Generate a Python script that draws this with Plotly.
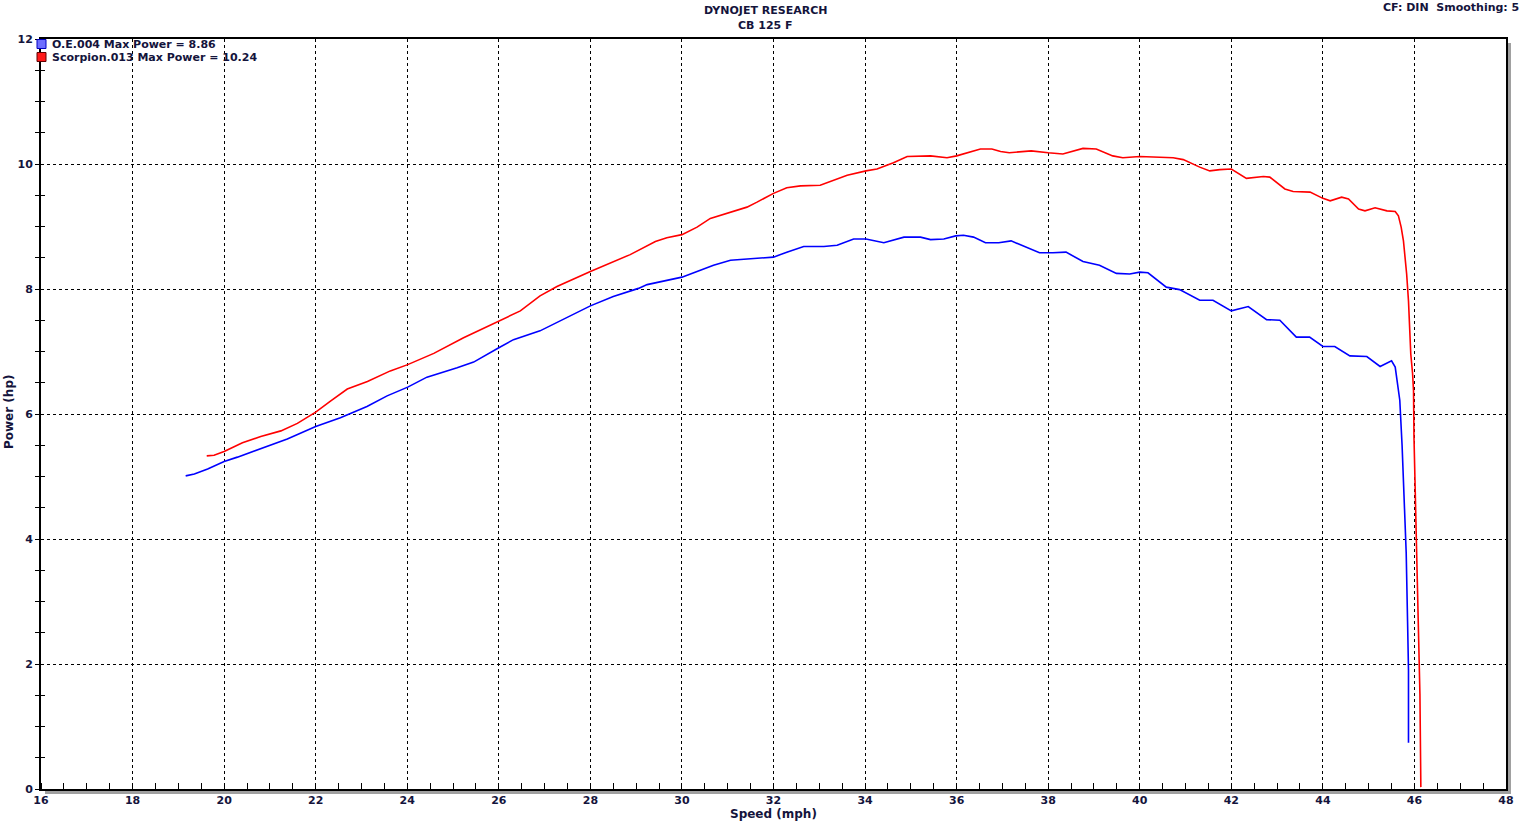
import plotly.graph_objects as go

# ---------------- data ----------------
oe_speed = [19.16, 19.35, 19.64, 20.0, 20.29, 20.87, 21.38, 22.0, 22.54, 23.12, 23.56, 24.01,
            24.43, 25.09, 25.45, 26.0, 26.32, 26.90, 27.41, 28.0, 28.5, 29.05, 29.24, 29.60,
            30.0, 30.33, 30.69, 31.06, 31.42, 32.0, 32.29, 32.66, 33.10, 33.39, 33.75, 34.02,
            34.41, 34.85, 35.21, 35.43, 35.72, 35.98, 36.15, 36.37, 36.63, 36.92, 37.19, 37.45,
            37.81, 38.10, 38.39, 38.76, 39.12, 39.49, 39.78, 40.0, 40.18, 40.58, 40.87, 41.31,
            41.60, 42.0, 42.37, 42.77, 43.06, 43.42, 43.71, 44.0, 44.26, 44.59, 44.96, 45.25,
            45.50, 45.58, 45.66, 45.68, 45.73, 45.77, 45.82, 45.85, 45.87, 45.87]
oe_power = [5.01, 5.04, 5.12, 5.24, 5.31, 5.46, 5.60, 5.80, 5.94, 6.12, 6.29, 6.43,
            6.59, 6.74, 6.83, 7.06, 7.19, 7.33, 7.52, 7.73, 7.88, 8.01, 8.07, 8.13,
            8.19, 8.28, 8.38, 8.46, 8.48, 8.51, 8.59, 8.68, 8.68, 8.70, 8.80, 8.80,
            8.74, 8.83, 8.83, 8.79, 8.80, 8.85, 8.86, 8.83, 8.74, 8.74, 8.77, 8.69,
            8.58, 8.58, 8.59, 8.44, 8.38, 8.25, 8.24, 8.27, 8.26, 8.03, 7.99, 7.82,
            7.82, 7.65, 7.72, 7.51, 7.50, 7.23, 7.23, 7.08, 7.08, 6.93, 6.92, 6.76,
            6.85, 6.75, 6.38, 6.22, 5.50, 4.84, 3.78, 2.68, 1.90, 0.74]

sc_speed = [19.62, 19.78, 20.0, 20.40, 20.80, 21.24, 21.60, 22.0, 22.33, 22.69, 23.13, 23.63,
            24.01, 24.58, 25.23, 25.81, 26.0, 26.47, 26.90, 27.27, 28.0, 28.54, 28.87, 29.42,
            29.67, 30.0, 30.33, 30.62, 31.06, 31.42, 31.64, 32.0, 32.29, 32.59, 33.02, 33.61,
            34.02, 34.26, 34.62, 34.92, 35.43, 35.79, 36.0, 36.23, 36.52, 36.77, 36.96, 37.15,
            37.63, 38.0, 38.32, 38.76, 39.05, 39.41, 39.63, 40.0, 40.73, 40.95, 41.31, 41.53,
            41.75, 42.0, 42.33, 42.70, 42.84, 43.17, 43.35, 43.72, 44.0, 44.16, 44.41, 44.56,
            44.78, 44.92, 45.14, 45.40, 45.58, 45.65, 45.71, 45.76, 45.80, 45.83, 45.87, 45.89,
            45.92, 45.96, 45.98, 45.99, 46.02, 46.06, 46.08, 46.10, 46.12, 46.14]
sc_power = [5.33, 5.34, 5.40, 5.54, 5.64, 5.73, 5.85, 6.03, 6.21, 6.40, 6.52, 6.69,
            6.79, 6.97, 7.22, 7.42, 7.48, 7.65, 7.89, 8.04, 8.28, 8.45, 8.55, 8.76,
            8.82, 8.87, 8.99, 9.13, 9.23, 9.31, 9.39, 9.53, 9.62, 9.65, 9.66, 9.82,
            9.89, 9.92, 10.02, 10.12, 10.13, 10.10, 10.13, 10.18, 10.24, 10.24, 10.20, 10.18,
            10.21, 10.18, 10.16, 10.25, 10.24, 10.13, 10.10, 10.12, 10.10, 10.07, 9.95, 9.89,
            9.91, 9.92, 9.77, 9.80, 9.79, 9.60, 9.56, 9.55, 9.45, 9.41, 9.47, 9.44,
            9.28, 9.25, 9.30, 9.25, 9.24, 9.17, 8.99, 8.77, 8.51, 8.24, 7.81, 7.39,
            6.96, 6.64, 6.37, 5.63, 4.74, 3.15, 2.58, 2.11, 1.52, 0.03]

series_names = ["O.E.004", "Scorpion.013"]
max_power = [8.86, 10.24]
x_ticks = list(range(16, 49, 2))
y_ticks = list(range(0, 13, 2))

# ---------------- layout geometry ----------------
W, H = 1530, 822
L, R, T, B = 41, 1506, 39, 789


def pxx(px):
    return (px - L) / (R - L)


def pxy(py):
    return (B - py) / (B - T)


TXT = "#14143c"
FONT = "Verdana, DejaVu Sans, sans-serif"

fig = go.Figure()
fig.add_trace(go.Scatter(x=oe_speed, y=oe_power, mode="lines", name=series_names[0],
                         line=dict(color="#0000ff", width=1.6), showlegend=False,
                         hoverinfo="x+y"))
fig.add_trace(go.Scatter(x=sc_speed, y=sc_power, mode="lines", name=series_names[1],
                         line=dict(color="#ff0000", width=1.6), showlegend=False,
                         hoverinfo="x+y"))
# empty trace to host the overlay y axis (inner halves of the crossing ticks)
fig.add_trace(go.Scatter(x=[None], y=[None], yaxis="y2", showlegend=False, hoverinfo="skip"))

fig.update_layout(
    width=W, height=H,
    margin=dict(l=L, r=W - R, t=T, b=H - B),
    paper_bgcolor="white", plot_bgcolor="white",
    font=dict(family=FONT, size=11, color=TXT),
    xaxis=dict(range=[16, 48], tickmode="array", tickvals=x_ticks,
               showgrid=True, gridcolor="black", gridwidth=1, griddash="3px,3px",
               showline=True, linecolor="black", linewidth=2, mirror=True,
               ticks="", tickfont=dict(family=FONT, size=11, color=TXT, weight="bold"),
               minor=dict(dtick=0.5, tick0=16, ticks="inside", ticklen=6,
                          tickcolor="black", tickwidth=1, showgrid=False),
               zeroline=False, fixedrange=True),
    yaxis=dict(range=[0, 12], tickmode="array", tickvals=y_ticks,
               showgrid=True, gridcolor="black", gridwidth=1, griddash="3px,3px",
               showline=True, linecolor="black", linewidth=2, mirror=True,
               ticks="outside", ticklen=4, tickcolor="black",
               tickfont=dict(family=FONT, size=11, color=TXT, weight="bold"),
               minor=dict(dtick=0.5, tick0=0, ticks="outside", ticklen=4,
                          tickcolor="black", tickwidth=1, showgrid=False),
               zeroline=False, fixedrange=True),
    yaxis2=dict(range=[0, 12], overlaying="y", side="left", showgrid=False,
                showticklabels=False, ticks="", zeroline=False, showline=False,
                minor=dict(dtick=0.5, tick0=0, ticks="inside", ticklen=4,
                           tickcolor="black", tickwidth=1, showgrid=False),
                fixedrange=True),
)

# shadow of the plot frame
SH = "#a0a0a0"
fig.add_shape(type="rect", xref="paper", yref="paper", x0=pxx(1507), x1=pxx(1511),
              y0=pxy(794), y1=pxy(43), fillcolor=SH, line_width=0, layer="below")
fig.add_shape(type="rect", xref="paper", yref="paper", x0=pxx(45), x1=pxx(1511),
              y0=pxy(794), y1=pxy(790), fillcolor=SH, line_width=0, layer="below")

# titles
fig.add_annotation(text="<b>DYNOJET RESEARCH</b>", xref="paper", yref="paper",
                   x=pxx(765), y=pxy(10), showarrow=False, xanchor="center", yanchor="middle",
                   font=dict(size=11, color=TXT))
fig.add_annotation(text="<b>CB 125 F</b>", xref="paper", yref="paper",
                   x=pxx(765), y=pxy(26), showarrow=False, xanchor="center", yanchor="middle",
                   font=dict(size=11, color=TXT))
fig.add_annotation(text="<b>CF: DIN  Smoothing: 5</b>", xref="paper", yref="paper",
                   x=pxx(1521), y=pxy(7), showarrow=False, xanchor="right", yanchor="middle",
                   font=dict(size=11, color=TXT))
# axis titles
fig.add_annotation(text="<b>Speed (mph)</b>", xref="paper", yref="paper",
                   x=pxx(773), y=pxy(814), showarrow=False, xanchor="center", yanchor="middle",
                   font=dict(size=12, color=TXT))
fig.add_annotation(text="<b>Power (hp)</b>", xref="paper", yref="paper",
                   x=pxx(9), y=pxy(412), showarrow=False, xanchor="center", yanchor="middle",
                   textangle=-90, font=dict(size=12, color=TXT))

# legend (custom, like the dyno software)
leg_fill = ["#6e6eff", "#ff1a1a"]
leg_line = ["#0000c0", "#600000"]
leg_y = [44, 57]
for i in range(2):
    fig.add_shape(type="rect", xref="paper", yref="paper",
                  x0=pxx(37), x1=pxx(46), y0=pxy(leg_y[i] + 4.5), y1=pxy(leg_y[i] - 4.5),
                  fillcolor=leg_fill[i], line=dict(color=leg_line[i], width=1))
    fig.add_annotation(text=f"<b>{series_names[i]} Max Power = {max_power[i]:.2f}</b>",
                       xref="paper", yref="paper", x=pxx(50), y=pxy(leg_y[i] + 0.5),
                       showarrow=False, xanchor="left", yanchor="middle",
                       font=dict(size=11, color=TXT))

fig.write_html("out.html", config={"displayModeBar": False},
               post_script="document.body.style.margin='0';document.body.style.overflow='hidden';")
